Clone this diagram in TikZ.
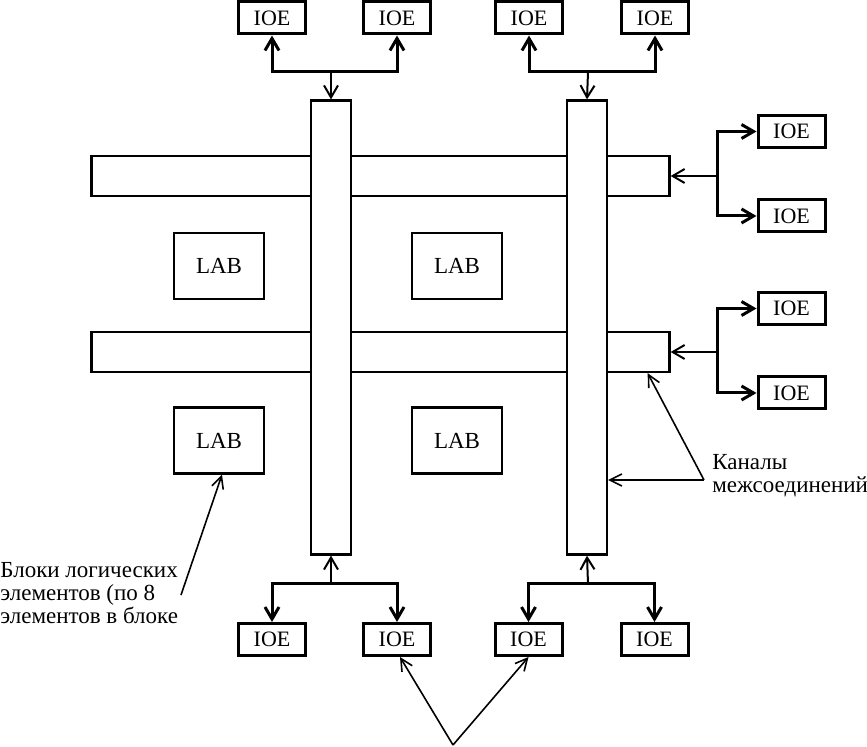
\documentclass[tikz,border=0pt]{standalone}
\usepackage{fontspec}
\setmainfont{Liberation Serif}
\usetikzlibrary{arrows.meta,calc,positioning}
\tikzset{
  ioe/.style={draw, line width=1.5pt, minimum width=33.5pt, minimum height=16pt, inner sep=0pt, font=\fontsize{11}{12}\selectfont},
  lab/.style={draw, line width=1.15pt, minimum width=45.3pt, minimum height=33pt, inner sep=0pt, font=\fontsize{11.5}{13}\selectfont},
  bar/.style={draw, fill=white, line width=1.1pt, minimum width=20pt, minimum height=227pt, inner sep=0pt},
  chan/.style={draw, line width=1.15pt, minimum width=289pt, minimum height=20pt, inner sep=0pt},
  bus/.style={line width=1.5pt, {Straight Barb[length=6pt,width=7pt]}-{Straight Barb[length=6pt,width=7pt]}},
  feed/.style={line width=1pt, -{Straight Barb[length=6pt,width=7pt]}},
  note/.style={line width=0.8pt, -{Straight Barb[length=6pt,width=6pt]}},
  caption/.style={align=left, inner sep=0pt, font=\fontsize{11.5}{11.5}\selectfont}
}

\begin{document}
\begin{tikzpicture}[x=0.5pt,y=-0.5pt]
  \useasboundingbox (0,0) rectangle (867,747);

  % interconnect channels
  \node[chan] (ch1) at (380.5,176) {};
  \node[chan] (ch2) at (380.5,352) {};
  \node[bar] (bar1) at (331,327.5) {};
  \node[bar] (bar2) at (587,327.5) {};

  % logic array blocks
  \node[lab] (labA) at (219,266) {LAB};
  \node[lab] (labB) at (457,266) {LAB};
  \node[lab] (labC) at (219,440.5) {LAB};
  \node[lab] (labD) at (457,440.5) {LAB};

  % I/O elements
  \node[ioe] (ioeT1) at (272,18) {IOE};
  \node[ioe] (ioeT2) at (397,18) {IOE};
  \node[ioe] (ioeT3) at (529,18) {IOE};
  \node[ioe] (ioeT4) at (655,18) {IOE};
  \node[ioe] (ioeB1) at (272,639.5) {IOE};
  \node[ioe] (ioeB2) at (397,639.5) {IOE};
  \node[ioe] (ioeB3) at (528.5,639.5) {IOE};
  \node[ioe] (ioeB4) at (654.5,639.5) {IOE};
  \node[ioe] (ioeR1) at (791.5,131.5) {IOE};
  \node[ioe] (ioeR2) at (791.5,216) {IOE};
  \node[ioe] (ioeR3) at (791.5,308.5) {IOE};
  \node[ioe] (ioeR4) at (791.5,393) {IOE};

  \coordinate (jt1) at (331,72);
  \coordinate (jt2) at (588,72);
  \coordinate (jb1) at (331,584);
  \coordinate (jb2) at (588,584);
  \coordinate (jr1) at (717,176);
  \coordinate (jr2) at (717,352);

  \draw[bus] (ioeT1.south) |- (jt1) -| (ioeT2.south);
  \draw[bus] (ioeT3.south) |- (jt2) -| (ioeT4.south);
  \draw[feed] (jt1) -- (bar1.north);
  \draw[feed] (jt2) -- (bar2.north);
  \draw[bus] (ioeB1.north) |- (jb1) -| (ioeB2.north);
  \draw[bus] (ioeB3.north) |- (jb2) -| (ioeB4.north);
  \draw[feed] (jb1) -- (bar1.south);
  \draw[feed] (jb2) -- (bar2.south);
  \draw[bus] (ioeR1.west) -| (jr1) |- (ioeR2.west);
  \draw[bus] (ioeR3.west) -| (jr2) |- (ioeR4.west);
  \draw[feed] (jr1) -- (ch1.east);
  \draw[feed] (jr2) -- (ch2.east);

  % captions
  \node[caption, anchor=north west] (capK) at (712,454) {Каналы\\межсоединений};
  \node[caption, anchor=north west] (capL) at (0,562) {Блоки логических\\элементов (по 8\\элементов в блоке};
  \coordinate (kapex) at (704,480);
  \coordinate (lapex) at (181,595);
  \coordinate (bapex) at (453,745);
  \draw[note] (kapex) -- ($(ch2.south east)+(-23,0)$);
  \draw[note] (kapex) -- (bar2.east |- kapex);
  \draw[note] (lapex) -- ($(labC.south)+(3,0)$);
  \draw[note] (bapex) -- ($(ioeB2.south)+(3,0)$);
  \draw[note] (bapex) -- (ioeB3.south);
\end{tikzpicture}
\end{document}
